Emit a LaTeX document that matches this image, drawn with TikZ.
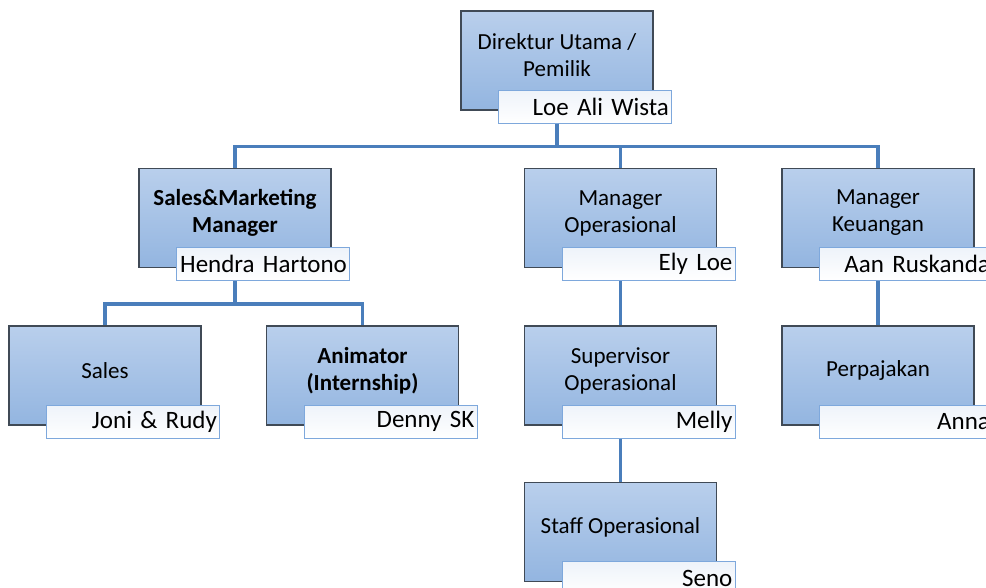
\documentclass[tikz,border=0pt]{standalone}
\usepackage{fontspec}
\setmainfont{Carlito}
\definecolor{kotak}{HTML}{404A56}
\definecolor{atas}{HTML}{B9CFEC}
\definecolor{bawah}{HTML}{93B5E0}
\definecolor{tepi}{HTML}{7EA8DC}
\definecolor{namaatas}{HTML}{EEF3FA}
\definecolor{biru}{HTML}{4A7EBB}

\begin{document}
\begin{tikzpicture}[x=1pt,y=1pt,
    jabatan/.style={draw=kotak, line width=1.2pt, top color=atas, bottom color=bawah, minimum width=192pt, minimum height=99pt, inner sep=0pt},
    teks/.style={align=center, yshift=5pt, font=\fontsize{23}{27}\selectfont},
    nama/.style={draw=tepi, line width=1pt, top color=namaatas, bottom color=white, anchor=north west, minimum height=33pt, text width=167pt, inner xsep=3pt, inner ysep=0pt, align=right, font=\fontsize{25}{28}\selectfont},
    garis/.style={draw=biru, line width=3.2pt}]
    \useasboundingbox (0,0) rectangle (986,-588);
    \clip (0,0) rectangle (986,-588);
    % kotak jabatan
    \node[jabatan, label={[teks]center:Direktur Utama /\\Pemilik}] (dirut) at (557,-60.5) {};
    \node[jabatan, label={[teks]center:\textbf{Sales\&Marketing}\\\textbf{Manager}}] (smm) at (235,-218) {};
    \node[jabatan, label={[teks]center:Manager\\Operasional}] (ops) at (620.5,-218) {};
    \node[jabatan, label={[teks]center:Manager\\Keuangan}] (keu) at (878,-218) {};
    \node[jabatan, label={[teks]center:Sales}] (sales) at (105,-375.5) {};
    \node[jabatan, label={[teks]center:\textbf{Animator}\\\textbf{(Internship)}}] (anim) at (362.5,-375.5) {};
    \node[jabatan, label={[teks]center:Supervisor\\Operasional}] (spv) at (620.5,-375.5) {};
    \node[jabatan, label={[teks]center:Perpajakan}] (pajak) at (878,-375.5) {};
    \node[jabatan, label={[teks]center:Staff Operasional}] (staff) at (620.5,-532) {};
    % nama
    \node[nama] (dirut-n) at ([xshift=38pt,yshift=21pt]dirut.south west) {Loe Ali Wista};
    \node[nama] (smm-n) at ([xshift=38pt,yshift=21pt]smm.south west) {\mbox{Hendra Hartono}};
    \node[nama] (ops-n) at ([xshift=38pt,yshift=21pt]ops.south west) {Ely Loe};
    \node[nama] (keu-n) at ([xshift=38pt,yshift=21pt]keu.south west) {Aan Ruskanda};
    \node[nama] (sales-n) at ([xshift=38pt,yshift=21pt]sales.south west) {Joni \& Rudy};
    \node[nama] (anim-n) at ([xshift=38pt,yshift=21pt]anim.south west) {Denny SK};
    \node[nama] (spv-n) at ([xshift=38pt,yshift=21pt]spv.south west) {Melly};
    \node[nama] (pajak-n) at ([xshift=38pt,yshift=21pt]pajak.south west) {Anna};
    \node[nama] (staff-n) at ([xshift=38pt,yshift=21pt]staff.south west) {Seno};
    % garis
    \draw[garis] (dirut.south |- dirut-n.south) -- ++(0,-23) -| (smm.north);
    \draw[garis] (dirut.south |- dirut-n.south) -- ++(0,-23) -| (ops.north);
    \draw[garis] (dirut.south |- dirut-n.south) -- ++(0,-23) -| (keu.north);
    \draw[garis] (smm.south |- smm-n.south) -- ++(0,-23) -| (sales.north);
    \draw[garis] (smm.south |- smm-n.south) -- ++(0,-23) -| (anim.north);
    \draw[garis] (ops.south |- ops-n.south) -- (spv.north);
    \draw[garis] (spv.south |- spv-n.south) -- (staff.north);
    \draw[garis] (keu.south |- keu-n.south) -- (pajak.north);
\end{tikzpicture}
\end{document}
